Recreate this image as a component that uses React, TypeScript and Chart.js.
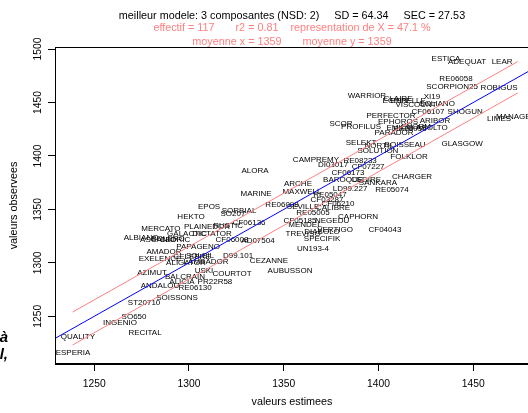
import React, { useEffect, useRef } from "react";
import { Chart, registerables } from "chart.js";

Chart.register(...registerables);

const FONT = '"Liberation Sans", Arial, Helvetica, sans-serif';

const titleMain = "meilleur modele: 3 composantes (NSD: 2)     SD = 64.34     SEC = 27.53";
const titleStats = "effectif = 117       r2 = 0.81    representation de X = 47.1 %";
const titleMeans = "moyenne x = 1359       moyenne y = 1359";
const xAxisTitle = "valeurs estimees";
const yAxisTitle = "valeurs observees";

const xTicks = [1250, 1300, 1350, 1400, 1450];
const yTicks = [1250, 1300, 1350, 1400, 1450, 1500];
const xRange = [1229.3, 1479.4];
const yRange = [1205.4, 1501.9];

const varieties = [
  "ESTICA", "ADEQUAT", "LEAR", "RE06058", "SCORPION25", "ROBIGUS", "WARRIOR", "CLAIRE", "ESPELLE", "XI19",
  "VISCOUNT", "SOLIANO", "ECRIN", "PERFECTOR", "CF06107", "SHOGUN", "LIMES", "MANAGER", "EPHOROS", "ARIBOR",
  "SCOR", "PROFILUS", "EMILIO", "RE06056", "ASOLTO", "ENORM", "PARADOR", "GLASGOW", "SELEKT", "NORTIL",
  "BOISSEAU", "SOLUTION", "FOLKLOR", "CAMPREMY", "DI03017", "RE08233", "CF07227", "CF06173", "BAROQUE", "CEDIRE",
  "SANKARA", "CHARGER", "LD99.227", "RE05074", "ARCHE", "MAXWELL", "RE05047", "CF03287", "RE06098", "SEVILLE",
  "CF06210", "CALIBRE", "RE05005", "CAPHORN", "CF05185", "NEGEDU", "MENDEL", "TREVISO", "DIABOLO", "VERTIGO",
  "SPECIFIK", "CF04043", "UN193-4", "ALORA", "MARINE", "EPOS", "SORBIAL", "SO207", "HEKTO", "PLAINEDOR",
  "RUSTIC", "CF06136", "MERCATO", "GALACTIC", "DICTATOR", "ALBIANO", "ASCANIO", "BOLERO", "CEDRIC", "CF06008",
  "AD07504", "PAPAGENO", "AMADOR", "EXELENCE", "CELEBRE", "SOLEIL", "ALIGATOR", "LAMBADOR", "D99.101", "CEZANNE",
  "AUBUSSON", "USKI", "COURTOT", "AZIMUT", "BALCRAIN", "PR22R58", "ANDALOU", "ALICIA", "RE06130", "SOISSONS",
  "ST20710", "SO650", "INGENIO", "RECITAL", "QUALITY", "ESPERIA",
];

const estimated = [
  1435.6, 1446.7, 1465.2, 1440.9, 1438.8, 1463.6, 1393.9, 1410.3, 1415.6, 1428.2,
  1419.8, 1430.9, 1408.7, 1406.6, 1426.1, 1445.7, 1463.6, 1472.6, 1410.3, 1429.8,
  1380.2, 1390.8, 1411.3, 1416.6, 1428.2, 1419.8, 1408.2, 1444.1, 1390.8, 1400.3,
  1414.0, 1399.7, 1416.1, 1367.0, 1376.0, 1390.3, 1394.5, 1383.9, 1381.3, 1393.4,
  1399.7, 1417.7, 1385.0, 1407.1, 1357.5, 1359.6, 1374.4, 1372.8, 1349.1, 1360.2,
  1378.6, 1376.0, 1365.4, 1389.2, 1358.6, 1375.5, 1361.2, 1360.2, 1370.2, 1377.1,
  1370.2, 1403.4, 1365.4, 1334.8, 1335.4, 1310.6, 1326.4, 1323.2, 1301.1, 1309.5,
  1320.6, 1331.7, 1285.2, 1299.0, 1312.1, 1274.7, 1283.7, 1288.9, 1292.6, 1322.7,
  1336.4, 1304.8, 1286.8, 1284.7, 1301.6, 1305.8, 1298.4, 1309.0, 1325.9, 1342.2,
  1353.3, 1307.9, 1322.7, 1280.5, 1297.9, 1313.7, 1284.7, 1296.3, 1303.2, 1293.7,
  1276.3, 1271.0, 1263.6, 1276.8, 1241.4, 1238.8,
];

const observed = [
  1490.7, 1487.9, 1487.9, 1472.0, 1464.5, 1463.6, 1456.1, 1453.3, 1451.4, 1455.1,
  1447.7, 1448.6, 1451.4, 1437.4, 1441.1, 1441.1, 1434.6, 1436.4, 1431.8, 1432.7,
  1429.9, 1427.1, 1426.2, 1425.2, 1426.2, 1427.1, 1421.5, 1411.2, 1412.1, 1409.3,
  1410.3, 1404.7, 1399.1, 1396.3, 1391.6, 1395.3, 1389.7, 1384.1, 1377.6, 1377.6,
  1374.8, 1380.4, 1369.2, 1368.2, 1373.8, 1366.4, 1363.5, 1358.9, 1354.2, 1352.3,
  1355.1, 1351.4, 1346.7, 1343.0, 1339.2, 1339.2, 1335.5, 1327.1, 1329.0, 1330.8,
  1322.4, 1330.8, 1313.1, 1386.0, 1364.5, 1352.3, 1348.6, 1345.8, 1343.0, 1333.6,
  1334.6, 1337.4, 1331.8, 1327.1, 1327.1, 1323.4, 1321.5, 1322.4, 1321.5, 1321.5,
  1320.6, 1315.0, 1310.3, 1303.7, 1305.6, 1306.5, 1300.0, 1300.9, 1306.5, 1301.9,
  1292.5, 1292.5, 1289.7, 1290.6, 1286.9, 1282.2, 1278.5, 1282.2, 1276.6, 1267.3,
  1262.6, 1249.5, 1243.9, 1234.6, 1230.8, 1215.9,
];

// y = x reference line (blue)
const identityX = [1229.3, 1479.4];
// prediction band (red)
const bandX = [1238.6, 1473.5];
const bandUpper = [1254.0, 1488.3];
const bandLower = [1223.2, 1459.0];

const rPlugin = {
  id: "rStyle",
  beforeDatasetsDraw(chart: any) {
    const { ctx, chartArea: a } = chart;
    const meta = chart.getDatasetMeta(0);
    ctx.save();
    ctx.beginPath();
    ctx.rect(a.left, a.top, a.right - a.left, a.bottom - a.top);
    ctx.clip();
    ctx.font = `8px ${FONT}`;
    ctx.fillStyle = "#000";
    ctx.textAlign = "center";
    ctx.textBaseline = "middle";
    meta.data.forEach((pt: any, i: number) => {
      ctx.fillText(varieties[i], pt.x, pt.y);
    });
    ctx.restore();
  },
  afterDraw(chart: any) {
    const { ctx, chartArea: a } = chart;
    ctx.save();
    ctx.strokeStyle = "#000";
    ctx.lineWidth = 1;
    ctx.strokeRect(
      Math.round(a.left) + 0.5,
      Math.round(a.top) + 0.5,
      Math.round(a.right - a.left) - 1,
      Math.round(a.bottom - a.top) - 1
    );
    const cx = (a.left + a.right) / 2;
    ctx.font = `10.8px ${FONT}`;
    ctx.textAlign = "center";
    ctx.textBaseline = "middle";
    ctx.fillStyle = "#000";
    ctx.fillText(titleMain, cx, 15.7);
    ctx.fillStyle = "#ff8080";
    ctx.fillText(titleStats, cx, 28.5);
    ctx.fillText(titleMeans, cx, 41.6);
    ctx.fillStyle = "#000";
    ctx.textBaseline = "alphabetic";
    ctx.fillText(xAxisTitle, cx, 405);
    ctx.translate(16.7, (a.top + a.bottom) / 2);
    ctx.rotate(-Math.PI / 2);
    ctx.fillText(yAxisTitle, 0, 0);
    ctx.restore();
  },
};

export default function App() {
  const ref = useRef<HTMLCanvasElement>(null);
  useEffect(() => {
    if (!ref.current) return;
    const chart = new Chart(ref.current, {
      type: "scatter",
      data: {
        datasets: [
          {
            label: "varietes",
            data: varieties.map((_, i) => ({ x: estimated[i], y: observed[i] })),
            pointRadius: 0,
            pointHoverRadius: 0,
            showLine: false,
          },
          {
            label: "y = x",
            data: identityX.map((v) => ({ x: v, y: v })),
            showLine: true,
            borderColor: "#0000ff",
            borderWidth: 1,
            pointRadius: 0,
            fill: false,
          },
          {
            label: "upper",
            data: bandX.map((v, i) => ({ x: v, y: bandUpper[i] })),
            showLine: true,
            borderColor: "#ff8080",
            borderWidth: 1,
            pointRadius: 0,
            fill: false,
          },
          {
            label: "lower",
            data: bandX.map((v, i) => ({ x: v, y: bandLower[i] })),
            showLine: true,
            borderColor: "#ff8080",
            borderWidth: 1,
            pointRadius: 0,
            fill: false,
          },
        ],
      },
      options: {
        responsive: false,
        animation: false,
        devicePixelRatio: 1,
        layout: { padding: { top: 47, right: 55, left: 0, bottom: 0 } },
        plugins: { legend: { display: false }, tooltip: { enabled: false }, title: { display: false } },
        scales: {
          x: {
            type: "linear",
            min: xRange[0],
            max: xRange[1],
            afterFit: (s: any) => {
              s.height = 49;
            },
            afterBuildTicks: (s: any) => {
              s.ticks = xTicks.map((v) => ({ value: v }));
            },
            grid: { drawOnChartArea: false, drawTicks: true, tickLength: 7, color: "#000", tickColor: "#000" },
            border: { display: true, color: "#000", width: 1 },
            ticks: {
              color: "#000",
              font: { family: FONT, size: 10.3 },
              padding: 7,
              maxRotation: 0,
              minRotation: 0,
              callback: (v: any) => String(v),
            },
          },
          y: {
            type: "linear",
            min: yRange[0],
            max: yRange[1],
            afterFit: (s: any) => {
              s.width = 55;
            },
            afterBuildTicks: (s: any) => {
              s.ticks = yTicks.map((v) => ({ value: v }));
            },
            grid: { drawOnChartArea: false, drawTicks: true, tickLength: 7, color: "#000", tickColor: "#000" },
            border: { display: true, color: "#000", width: 1 },
            ticks: {
              color: "#000",
              font: { family: FONT, size: 10.3 },
              padding: -2,
              minRotation: 90,
              maxRotation: 90,
              crossAlign: "center",
              callback: (v: any) => String(v),
            },
          },
        },
      },
      plugins: [rPlugin],
    } as any);
    return () => chart.destroy();
  }, []);

  return (
    <div
      style={{
        position: "fixed",
        left: 0,
        top: 0,
        width: 528,
        height: 413,
        overflow: "hidden",
        background: "#fff",
      }}
    >
      <canvas ref={ref} width={584} height={413} style={{ display: "block", width: 584, height: 413 }} />
      <div
        style={{
          position: "absolute",
          left: -52,
          top: 329,
          width: 60,
          textAlign: "right",
          font: `italic bold 15px ${FONT}`,
          lineHeight: "15px",
          color: "#000",
        }}
      >
        à
      </div>
      <div
        style={{
          position: "absolute",
          left: -52,
          top: 346,
          width: 60,
          textAlign: "right",
          font: `italic bold 15px ${FONT}`,
          lineHeight: "15px",
          color: "#000",
        }}
      >
        l,
      </div>
    </div>
  );
}
